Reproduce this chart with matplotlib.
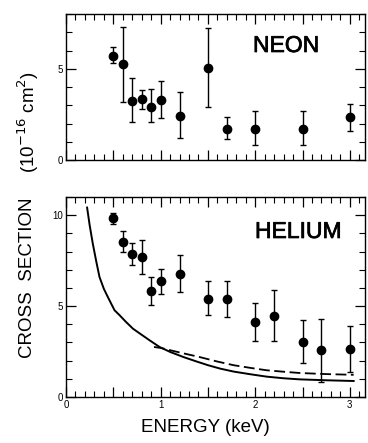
import matplotlib
matplotlib.use("Agg")
import matplotlib.pyplot as plt
import matplotlib.patheffects as pe
from matplotlib.ticker import MultipleLocator, FuncFormatter

plt.rcParams['font.family'] = ['Liberation Sans', 'DejaVu Sans']

# Neon data
neon_x = [0.5, 0.6, 0.7, 0.8, 0.9, 1.0, 1.2, 1.5, 1.7, 2.0, 2.5, 3.0]
neon_y = [5.7, 5.25, 3.25, 3.33, 2.93, 3.3, 2.42, 5.04, 1.69, 1.69, 1.69, 2.38]
neon_hi = [6.17, 7.27, 4.47, 3.85, 3.88, 4.32, 3.70, 7.23, 2.38, 2.71, 2.69, 3.09]
neon_lo = [5.31, 3.17, 2.09, 2.82, 2.09, 2.31, 1.21, 2.93, 1.14, 0.84, 0.80, 1.57]

# Helium data
he_x = [0.5, 0.6, 0.7, 0.8, 0.9, 1.0, 1.2, 1.5, 1.7, 2.0, 2.2, 2.5, 2.7, 3.0]
he_y = [9.82, 8.53, 7.89, 7.71, 5.83, 6.38, 6.79, 5.39, 5.39, 4.13, 4.44, 3.03, 2.61, 2.66]
he_hi = [10.13, 9.14, 8.48, 8.66, 6.6, 7.04, 7.8, 6.38, 6.38, 5.17, 5.87, 4.22, 4.31, 3.89]
he_lo = [9.54, 7.98, 7.25, 6.79, 5.05, 5.65, 5.78, 4.53, 4.4, 3.08, 3.08, 1.87, 0.83, 1.38]

# Theory curves (helium)
solid_x = [0.223, 0.25, 0.283, 0.32, 0.354, 0.40, 0.442, 0.513, 0.566, 0.63, 0.707, 0.80, 0.883,
           0.989, 1.1, 1.24, 1.37, 1.5, 1.63, 1.77, 1.95, 2.12, 2.3, 2.47, 2.75, 3.04]
solid_y = [10.42, 9.45, 8.44, 7.45, 6.60, 5.95, 5.50, 4.77, 4.50, 4.15, 3.76, 3.42, 3.12,
           2.75, 2.48, 2.2, 1.97, 1.75, 1.56, 1.4, 1.25, 1.12, 1.03, 0.97, 0.92, 0.88]
dash_x = [0.93, 1.0, 1.2, 1.41, 1.6, 1.77, 1.95, 2.12, 2.3, 2.47, 2.75, 3.04]
dash_y = [2.75, 2.7, 2.45, 2.2, 1.95, 1.75, 1.6, 1.47, 1.39, 1.32, 1.26, 1.22]

W, H = 368, 443
fig = plt.figure(figsize=(W / 100, H / 100), dpi=100)

def px_axes(l, t, r, b):
    return fig.add_axes([l / W, 1 - b / H, (r - l) / W, (b - t) / H])

ax1 = px_axes(66, 14, 365, 160)
ax2 = px_axes(66, 197, 365, 397)

def style(ax, ymax):
    ax.set_xlim(0, 3.16)
    ax.set_ylim(0, ymax)
    ax.xaxis.set_major_locator(MultipleLocator(0.5))
    ax.xaxis.set_minor_locator(MultipleLocator(0.1))
    ax.yaxis.set_major_locator(MultipleLocator(5))
    ax.yaxis.set_minor_locator(MultipleLocator(1))
    ax.tick_params(which='both', direction='in', top=True, right=True, labelsize=7, pad=2)
    ax.tick_params(which='major', length=7, width=0.9)
    ax.tick_params(which='minor', length=4, width=0.8)
    for s in ax.spines.values():
        s.set_linewidth(1.0)
    ax.xaxis.set_major_formatter(FuncFormatter(
        lambda v, p: ('%d' % round(v)) if abs(v - round(v)) < 1e-6 else ''))
    ax.yaxis.set_major_formatter(FuncFormatter(lambda v, p: '%d' % round(v)))

def errs(y, lo, hi):
    return [[a - b for a, b in zip(y, lo)], [b - a for a, b in zip(y, hi)]]

style(ax1, 8)
ax1.errorbar(neon_x, neon_y, yerr=errs(neon_y, neon_lo, neon_hi), fmt='o', color='black',
             ms=6, elinewidth=1.0, capsize=2, capthick=1.0)
ax1.tick_params(axis='x', labelbottom=False)

style(ax2, 11)
ax2.errorbar(he_x, he_y, yerr=errs(he_y, he_lo, he_hi), fmt='o', color='black',
             ms=6, elinewidth=1.0, capsize=2, capthick=1.0)
ax2.plot(solid_x, solid_y, color='black', lw=1.4)
ax2.plot(dash_x, dash_y, color='black', lw=1.3, dashes=(6, 2.5))

thick = [pe.withStroke(linewidth=0.5, foreground='black')]

# place text with pixel coords (top-left origin)
def ftext(x, y, s, **kw):
    fig.text(x / W, 1 - y / H, s, **kw)

ftext(253, 52, 'NEON', fontsize=16.5, va='baseline', path_effects=thick)
ftext(255, 238, 'HELIUM', fontsize=16.5, va='baseline', path_effects=thick)
ftext(205, 428, 'ENERGY (keV)', fontsize=13.5, ha='center', va='center')
ftext(28, 278, 'CROSS  SECTION', fontsize=13.5, rotation=90, ha='center', va='center')
ftext(28, 122, '(10$^{-16}$ cm$^{2}$)', fontsize=13.5, rotation=90, ha='center', va='center')

fig.savefig('out.png', dpi=100)
